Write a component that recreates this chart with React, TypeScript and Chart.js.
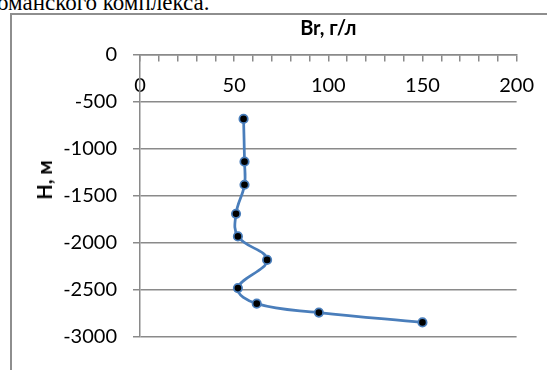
import React, { useEffect, useRef } from "react";
import { Chart, registerables } from "chart.js";

Chart.register(...registerables);

// ---- data ----
const brValues: number[] = [55, 55.5, 55.5, 51, 52, 67.5, 52, 62, 95, 150];
const depthValues: number[] = [-680, -1135, -1380, -1690, -1930, -2180, -2480, -2645, -2740, -2845];
const xLabelTicks: number[] = [0, 50, 100, 150, 200];
const yTickValues: number[] = [0, -500, -1000, -1500, -2000, -2500, -3000];
const xTitle = "Br, г/л";
const yTitle = "H, м";
const captionText = "оманского комплекса.";

const GRAY = "#8a8a8a";
const FONT = "Lato, 'Open Sans', sans-serif";

export default function App() {
  const canvasRef = useRef<HTMLCanvasElement | null>(null);

  useEffect(() => {
    document.body.style.margin = "0";
    const canvas = canvasRef.current;
    if (!canvas) return;
    const points = brValues.map((x, i) => ({ x, y: depthValues[i] }));
    const chart = new Chart(canvas, {
      type: "scatter",
      data: {
        datasets: [
          {
            data: points,
            showLine: true,
            borderColor: "#4A7EBB",
            borderWidth: 2.75,
            tension: 0.4,
            pointRadius: 4.2,
            pointBackgroundColor: "#000000",
            pointBorderColor: "#4A7EBB",
            pointBorderWidth: 1.75,
          },
        ],
      },
      options: {
        animation: false,
        responsive: false,
        events: [],
        layout: { padding: { left: 10, right: 27, top: 10, bottom: 33 } },
        plugins: {
          legend: { display: false },
          tooltip: { enabled: false },
          title: {
            display: true,
            text: xTitle,
            fullSize: false,
            color: "#000",
            font: { family: FONT, size: 20, weight: "bold" },
            padding: { top: 7, bottom: 14 },
          },
        },
        scales: {
          x: {
            type: "linear",
            position: { y: 0 } as any,
            min: xLabelTicks[0],
            max: xLabelTicks[xLabelTicks.length - 1],
            ticks: {
              stepSize: 10,
              autoSkip: false,
              maxRotation: 0,
              padding: 13,
              color: "#000",
              font: { family: FONT, size: 20 },
              callback: (v: any) => (xLabelTicks.includes(Number(v)) ? String(v) : ""),
            },
            grid: {
              drawOnChartArea: false,
              drawTicks: true,
              tickLength: 6,
              color: GRAY,
              lineWidth: 1.5,
            },
            border: { display: true, color: GRAY, width: 1.5 },
          },
          y: {
            type: "linear",
            position: "left",
            min: yTickValues[yTickValues.length - 1],
            max: yTickValues[0],
            afterFit: (scale: any) => {
              scale.width = 130;
            },
            ticks: {
              stepSize: 500,
              padding: 16,
              color: "#000",
              font: { family: FONT, size: 20 },
              callback: (v: any) => String(v),
            },
            grid: {
              color: GRAY,
              lineWidth: 1.5,
              tickLength: 7,
              drawTicks: true,
            },
            border: { display: true, color: GRAY, width: 1.5 },
          },
        },
      },
    });
    return () => chart.destroy();
  }, []);

  return (
    <div style={{ position: "relative", width: 547, height: 370, overflow: "hidden", background: "#fff" }}>
      <div
        style={{
          position: "absolute",
          left: -3,
          top: -9,
          fontFamily: "'Liberation Serif', 'Times New Roman', serif",
          fontSize: 23,
          lineHeight: "23px",
          whiteSpace: "nowrap",
          color: "#000",
        }}
      >
        {captionText}
      </div>
      <div
        style={{
          position: "absolute",
          left: 10,
          top: 13,
          width: 620,
          height: 420,
          border: "2px solid #8e8e8e",
          boxSizing: "border-box",
        }}
      />
      <canvas
        ref={canvasRef}
        width={547}
        height={370}
        style={{ position: "absolute", left: 0, top: 0, width: 547, height: 370 }}
      />
      <div
        style={{
          position: "absolute",
          left: 44,
          top: 180,
          transform: "translate(-50%, -50%) rotate(-90deg)",
          fontFamily: FONT,
          fontWeight: "bold",
          fontSize: 20,
          whiteSpace: "nowrap",
          color: "#000",
        }}
      >
        {yTitle}
      </div>
    </div>
  );
}
